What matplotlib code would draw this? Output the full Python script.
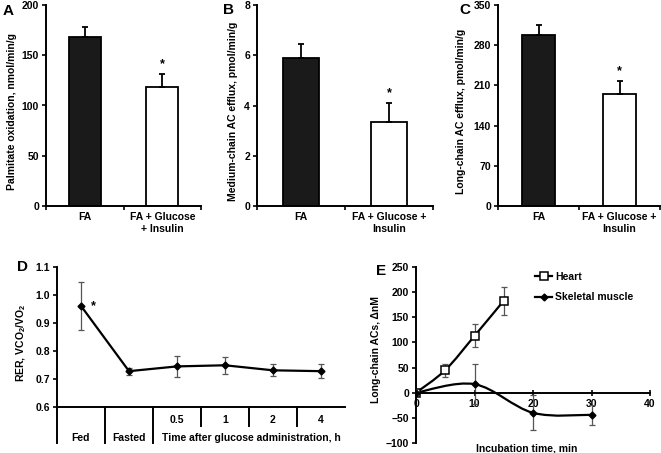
import numpy as np
import matplotlib
matplotlib.use("Agg")
import matplotlib.pyplot as plt
from matplotlib.path import Path
from matplotlib.patches import PathPatch
from matplotlib.lines import Line2D
import matplotlib.transforms as mtrans

plt.rcParams["font.family"] = ["Liberation Sans", "DejaVu Sans"]
plt.rcParams["font.weight"] = "bold"
plt.rcParams["axes.labelweight"] = "bold"
plt.rcParams["font.size"] = 7.5
plt.rcParams["mathtext.default"] = "regular"

# ---- data ----
bar_cats_a = ["FA", "FA + Glucose\n+ Insulin"]
bar_cats_bc = ["FA", "FA + Glucose +\nInsulin"]

palm_vals = [168, 118]
palm_err = [10, 13]
medium_vals = [5.9, 3.35]
medium_err = [0.55, 0.75]
long_vals = [298, 195]
long_err = [17, 22]

rer_cats = ["Fed", "Fasted", "0.5", "1", "2", "4"]
rer_vals = [0.961, 0.728, 0.745, 0.749, 0.731, 0.728]
rer_err = [0.086, 0.012, 0.038, 0.031, 0.021, 0.024]

heart_t = [0, 5, 10, 15]
heart_vals = [0, 45, 113, 183]
heart_err = [0, 13, 23, 28]
skel_t = [0, 10, 20, 30]
skel_vals = [0, 17, -40, -44]
skel_err = [0, 40, 35, 20]

W, H = 661, 453
fig = plt.figure(figsize=(W / 100, H / 100), dpi=100)
FS = 7.5


def px_axes(left, right, top, bottom):
    return fig.add_axes([left / W, 1 - bottom / H, (right - left) / W, (bottom - top) / H])


def style(ax):
    for s in ["top", "right"]:
        ax.spines[s].set_visible(False)
    for s in ["left", "bottom"]:
        ax.spines[s].set_linewidth(1.4)
    ax.tick_params(axis="y", direction="out", length=3, width=1.2, pad=2, labelsize=FS)


def bar_panel(ax, vals, errs, cats, ymax, step, ylabel, ylab_x):
    style(ax)
    x = np.arange(len(vals))
    ax.bar(x, vals, width=0.41, color=["#1a1a1a", "white"], edgecolor="black", linewidth=1.3, zorder=2)
    ax.errorbar(x, vals, yerr=[np.zeros(len(vals)), errs], fmt="none", ecolor="black",
                elinewidth=1.3, capsize=2, capthick=1.3, zorder=3)
    ax.annotate("*", (1, vals[1] + errs[1]), xytext=(0, 3), textcoords="offset points",
                ha="center", va="bottom", fontsize=9)
    ax.set_xlim(-0.5, 1.5)
    ax.set_ylim(0, ymax)
    ax.set_yticks(np.arange(0, ymax + step / 2, step))
    ax.set_xticks([-0.5, 0.5, 1.5])
    ax.set_xticklabels([])
    ax.tick_params(axis="x", direction="out", length=3, width=1.2)
    tr = mtrans.blended_transform_factory(ax.transData, ax.transAxes)
    for i, c in enumerate(cats):
        ax.text(x[i], -0.03, c, transform=tr, ha="center", va="top", fontsize=FS, linespacing=1.3)
    ax.set_ylabel(ylabel, fontsize=FS)
    ax.yaxis.set_label_coords(ylab_x, 0.47)


axA = px_axes(46, 201, 5, 206)
bar_panel(axA, palm_vals, palm_err, bar_cats_a, 200, 50, "Palmitate oxidation, nmol/min/g", -0.19)
axB = px_axes(257, 433, 5, 206)
bar_panel(axB, medium_vals, medium_err, bar_cats_bc, 8, 2, "Medium-chain AC efflux, pmol/min/g", -0.108)
axC = px_axes(498, 660, 5, 206)
bar_panel(axC, long_vals, long_err, bar_cats_bc, 350, 70, "Long-chain AC efflux, pmol/min/g", -0.198)

# ---- panel D ----
axD = px_axes(57, 345, 267, 407)
style(axD)
xd = np.arange(len(rer_vals))
axD.errorbar(xd, rer_vals, yerr=rer_err, fmt="none", ecolor="#555555", elinewidth=0.9,
             capsize=2.5, capthick=0.9, zorder=2)
axD.plot(xd, rer_vals, color="black", lw=1.6, marker="D", ms=3.5, zorder=3)
axD.annotate("*", (0, rer_vals[0]), xytext=(7, 0), textcoords="offset points",
             ha="left", va="center", fontsize=9)
axD.set_xlim(-0.5, 5.5)
axD.set_ylim(0.6, 1.1)
axD.set_yticks(np.arange(0.6, 1.11, 0.1))
axD.set_yticklabels(["%.1f" % v for v in np.arange(0.6, 1.11, 0.1)])
axD.set_xticks([])
trD = mtrans.blended_transform_factory(axD.transData, axD.transAxes)
axD.plot([-0.5, -0.5], [0, -0.26], color="black", lw=1.4, transform=trD, clip_on=False)
for b in [0.5, 1.5]:
    axD.plot([b, b], [0, -0.26], color="black", lw=1.4, transform=trD, clip_on=False)
for b in [2.5, 3.5, 4.5]:
    axD.plot([b, b], [0, -0.137], color="black", lw=1.4, transform=trD, clip_on=False)
for i in range(2, 6):
    axD.text(xd[i], -0.093, rer_cats[i], transform=trD, ha="center", va="center", fontsize=FS)
axD.text(0, -0.222, rer_cats[0], transform=trD, ha="center", va="center", fontsize=FS)
axD.text(1, -0.222, rer_cats[1], transform=trD, ha="center", va="center", fontsize=FS)
axD.text(3.55, -0.222, "Time after glucose administration, h", transform=trD,
         ha="center", va="center", fontsize=FS)
axD.set_ylabel("RER, VCO$_2$/VO$_2$", fontsize=FS)
axD.yaxis.set_label_coords(-0.10, 0.46)


# ---- panel E ----
def smooth_path(xs, ys):
    pts = np.column_stack([xs, ys]).astype(float)
    ext = np.vstack([pts[0], pts, pts[-1]])
    verts = [pts[0]]
    codes = [Path.MOVETO]
    for i in range(len(pts) - 1):
        p0, p1, p2, p3 = ext[i], ext[i + 1], ext[i + 2], ext[i + 3]
        verts += [p1 + (p2 - p0) / 6, p2 - (p3 - p1) / 6, p2]
        codes += [Path.CURVE4] * 3
    return Path(verts, codes)


axE = px_axes(416, 650, 267, 443)
style(axE)
axE.spines["bottom"].set_position(("data", 0))
axE.add_patch(PathPatch(smooth_path(heart_t, heart_vals), fill=False, ec="black", lw=1.6, zorder=3))
axE.add_patch(PathPatch(smooth_path(skel_t, skel_vals), fill=False, ec="black", lw=1.6, zorder=3))
axE.errorbar(heart_t, heart_vals, yerr=heart_err, fmt="none", ecolor="#555555", elinewidth=0.9,
             capsize=2.5, capthick=0.9, zorder=2)
axE.errorbar(skel_t, skel_vals, yerr=skel_err, fmt="none", ecolor="#555555", elinewidth=0.9,
             capsize=2.5, capthick=0.9, zorder=2)
axE.plot(heart_t, heart_vals, ls="none", marker="s", ms=5.5, mfc="white", mec="black", mew=1.1, zorder=4)
axE.plot(skel_t, skel_vals, ls="none", marker="D", ms=3.5, color="black", zorder=4)
axE.set_xlim(0, 40)
axE.set_ylim(-100, 250)
axE.set_xticks([0, 10, 20, 30, 40])
axE.set_yticks(np.arange(-100, 251, 50))
axE.tick_params(axis="x", direction="inout", length=5, width=1.2, pad=2, labelsize=FS)
axE.set_ylabel("Long-chain ACs, ΔnM", fontsize=FS)
axE.yaxis.set_label_coords(-0.15, 0.53)
axE.text(0.474, -0.034, "Incubation time, min", transform=axE.transAxes, ha="center", va="center", fontsize=FS)
handles = [
    Line2D([], [], color="black", lw=1.6, marker="s", ms=5.5, mfc="white", mec="black", mew=1.1),
    Line2D([], [], color="black", lw=1.6, marker="D", ms=3.5),
]
axE.legend(handles, ["Heart", "Skeletal muscle"], loc="center left", bbox_to_anchor=(0.47, 0.885),
           frameon=False, handlelength=1.6, handletextpad=0.3, labelspacing=1.0, fontsize=FS)

# panel letters
for letter, (lx, ly) in {"A": (8, 11), "B": (229, 10), "C": (465, 10), "D": (22, 267), "E": (381, 271)}.items():
    fig.text(lx / W, 1 - ly / H, letter, ha="center", va="center", fontsize=11, fontweight="bold")

fig.savefig("out.png", dpi=100)
